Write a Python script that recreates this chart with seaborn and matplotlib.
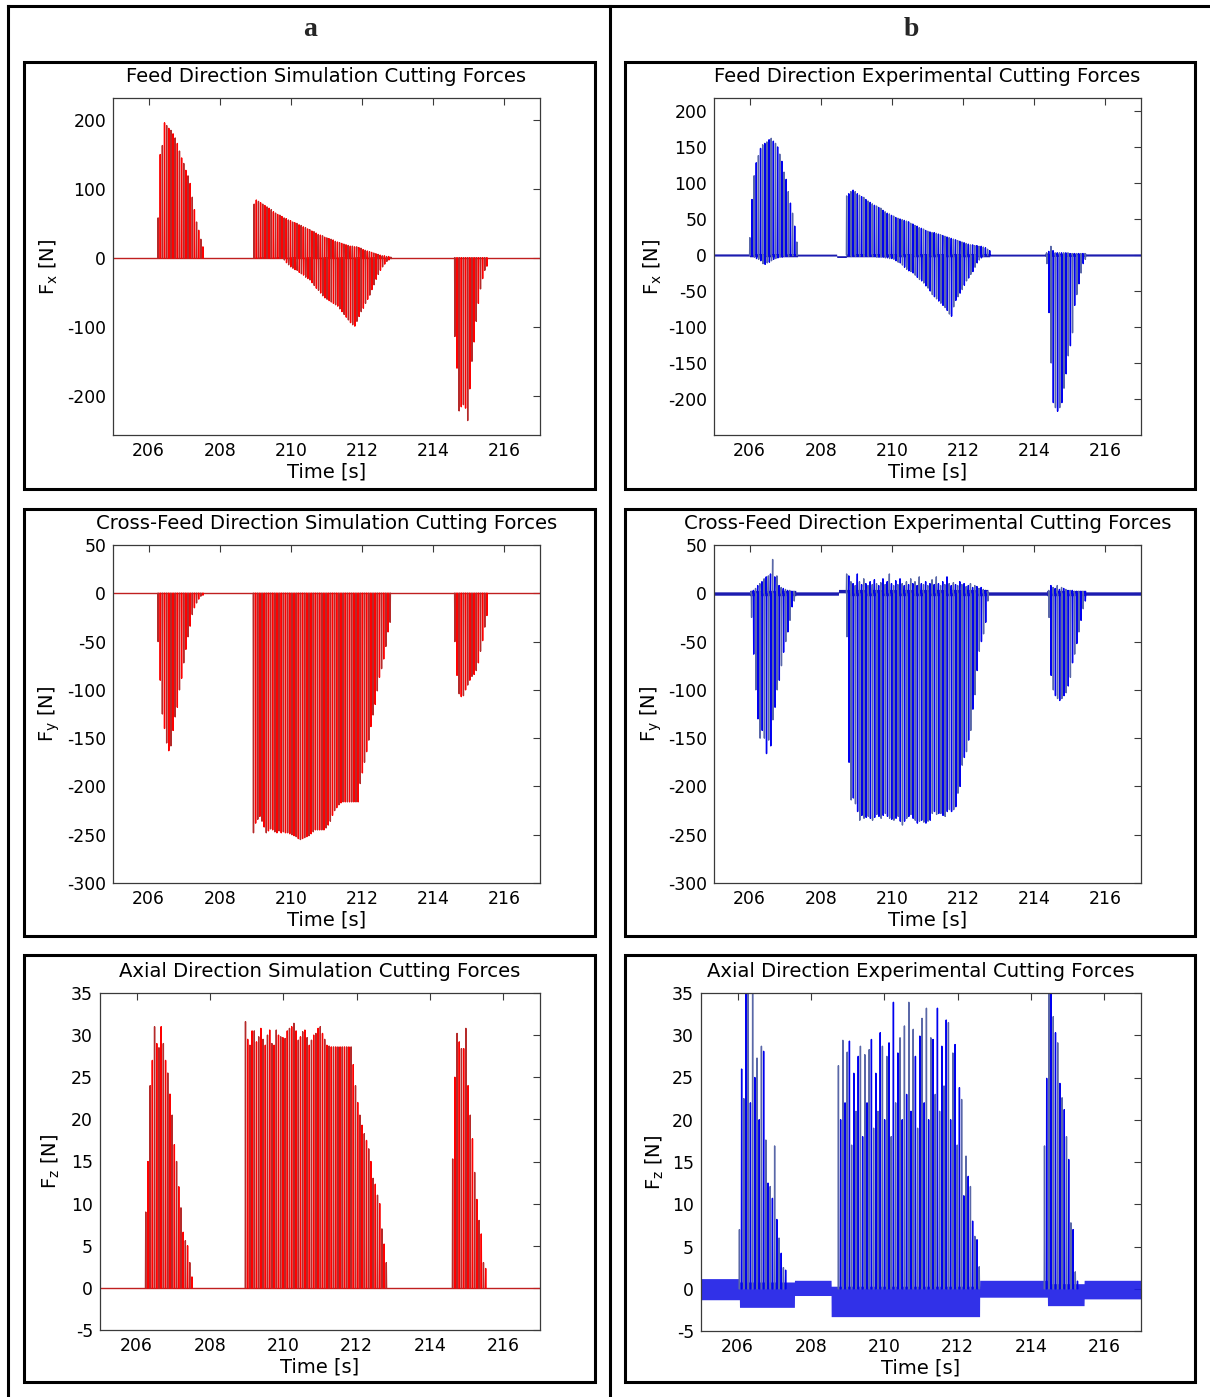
import matplotlib
matplotlib.use("Agg")
import matplotlib.pyplot as plt
from matplotlib.patches import Rectangle
from matplotlib.lines import Line2D
import pandas as pd
import seaborn as sns

# ------------------------------------------------------------------ data
# one spike per tooth pass, spaced by the tooth period [s]
tooth_dt = 0.06
time_ticks = [206, 208, 210, 212, 214, 216]
time_range = (205, 217)

# --- simulation, feed direction Fx [N]
sim_fx_b1_t0 = 206.26
sim_fx_b1_pos = [58, 150, 163, 196, 192, 188, 185, 180, 174, 166, 155, 145, 137,
                 127, 119, 108, 88, 70, 52, 40, 27, 16]
sim_fx_b2_t0 = 208.96
sim_fx_b2_pos = [78, 84, 82, 80, 78, 76, 74, 72, 70, 67, 65, 63, 62, 60, 58, 57,
                 55, 54, 52, 51, 50, 48, 47, 45, 44, 42, 41, 39, 38, 36, 34, 33,
                 32, 30, 29, 28, 27, 26, 24, 23, 22, 21, 20, 19, 18, 17, 17, 16,
                 16, 15, 14, 12, 11, 10, 9, 8, 7, 6, 5, 4, 3, 3, 2, 2, 1]
sim_fx_b2_neg = [0, 0, 0, 0, 0, 0, 0, 0, 0, 0, 0, 0, 0, 0, -3, -7, -10, -13, -15,
                 -17, -18, -21, -23, -25, -28, -30, -32, -36, -40, -44, -47, -51,
                 -55, -58, -60, -62, -64, -66, -68, -70, -74, -78, -82, -86, -90,
                 -94, -97, -99, -92, -85, -78, -73, -66, -60, -54, -46, -39, -31,
                 -24, -18, -13, -9, -5, -3, -1]
sim_fx_b3_t0 = 214.60
sim_fx_b3_neg = [-114, -160, -222, -216, -213, -218, -236, -190, -150, -122, -92,
                 -66, -45, -30, -18, -12]

# --- simulation, cross-feed direction Fy [N]
sim_fy_b1_t0 = 206.26
sim_fy_b1_neg = [-50, -90, -125, -140, -155, -163, -158, -142, -128, -118, -100,
                 -88, -72, -58, -45, -34, -22, -15, -10, -6, -3, -2]
sim_fy_b2_t0 = 208.94
sim_fy_b2_neg = [-248, -238, -234, -231, -236, -242, -248, -246, -244, -245,
                 -247, -248, -246, -248, -247, -248, -248, -249, -250, -251,
                 -252, -254, -255, -254, -253, -252, -251, -249, -247, -245,
                 -245, -245, -245, -245, -243, -240, -236, -230, -225, -222,
                 -219, -217, -216, -216, -216, -216, -216, -216, -216, -216,
                 -197, -186, -175, -164, -152, -138, -126, -115, -101, -87,
                 -78, -68, -55, -40, -30]
sim_fy_b3_t0 = 214.60
sim_fy_b3_neg = [-50, -85, -104, -107, -106, -100, -95, -90, -86, -84, -80, -72,
                 -60, -49, -35, -23]

# --- simulation, axial direction Fz [N]
sim_fz_b1_t0 = 206.24
sim_fz_b1_pos = [9, 15, 24, 27, 31, 29, 28.5, 31, 29, 27, 25.5, 23, 20.5, 17, 15,
                 12, 9.5, 6.6, 5.6, 5, 3, 1.3]
sim_fz_b2_t0 = 208.96
sim_fz_b2_pos = [31.6, 29.5, 28.8, 30.5, 30.5, 29.2, 29.8, 30.8, 29.5, 28.8,
                 30.0, 30.6, 29.0, 28.8, 30.6, 30.0, 29.8, 29.7, 29.6, 30.5,
                 30.8, 31.0, 31.4, 30.5, 29.4, 29.8, 30.4, 30.6, 29.7, 28.8,
                 29.4, 30.0, 30.2, 30.8, 31.0, 30.2, 29.5, 28.8, 28.7, 28.6,
                 28.6, 28.6, 28.6, 28.6, 28.6, 28.6, 28.6, 28.6, 28.6, 26.5,
                 24.0, 22.0, 20.5, 19.3, 18.3, 17.5, 16.5, 15.0, 13.0, 12.3,
                 11.0, 10.0, 7.0, 5.2, 3.0]
sim_fz_b3_t0 = 214.61
sim_fz_b3_pos = [15.3, 25, 30.2, 29.2, 28.4, 28.4, 30.8, 24, 20.5, 17.7, 13.7,
                 10.5, 8, 6.4, 3, 2.3]

# --- experiment, feed direction Fx [N]
exp_fx_b1_t0 = 206.00
exp_fx_b1_pos = [24, 77, 110, 128, 138, 148, 153, 155, 157, 160, 162, 158, 155,
                 150, 140, 130, 115, 105, 88, 72, 58, 40, 18]
exp_fx_b1_neg = [0, -2, -3, -5, -6, -8, -12, -13, -11, -10, -8, -6, -5, -4, -3,
                 -3, -2, -2, -2, -1, -1, -1, 0]
exp_fx_b2_t0 = 208.72
exp_fx_b2_pos = [82, 85, 88, 90, 88, 85, 83, 81, 80, 77, 75, 73, 71, 69, 68, 66,
                 65, 62, 60, 58, 57, 55, 54, 52, 51, 50, 49, 48, 47, 46, 44, 43,
                 41, 40, 38, 37, 36, 34, 33, 32, 31, 31, 30, 29, 28, 27, 26, 25,
                 24, 23, 22, 21, 20, 19, 18, 17, 16, 15, 14, 14, 13, 13, 12, 12,
                 11, 10, 8, 6]
exp_fx_b2_neg = [0, 0, -2, -2, -2, -2, -2, -2, -2, -2, -2, -2, -2, -2, -3, -3,
                 -3, -3, -4, -4, -5, -5, -6, -8, -10, -11, -14, -17, -20, -22,
                 -23, -25, -28, -31, -34, -36, -39, -43, -46, -50, -55, -58, -61,
                 -64, -67, -70, -73, -77, -82, -85, -72, -63, -58, -53, -48, -42,
                 -36, -32, -27, -23, -17, -11, -7, -4, -2, -1, 0, 0]
exp_fx_b3_t0 = 214.34
exp_fx_b3_pos = [3, 5, 12, 6, 3, 3, 3, 3, 3, 3, 3, 2, 2, 2, 2, 2, 2, 2, 2]
exp_fx_b3_neg = [-12, -80, -150, -205, -212, -217, -212, -205, -185, -165, -140,
                 -126, -108, -70, -55, -40, -25, -12, -6]

# --- experiment, cross-feed direction Fy [N]
exp_fy_b1_t0 = 206.04
exp_fy_b1_pos = [2, 3, 5, 8, 10, 12, 15, 17, 18, 20, 35, 17, 18, 8, 6, 5, 4, 3,
                 3, 2, 2]
exp_fy_b1_neg = [-25, -63, -100, -130, -150, -142, -150, -166, -152, -158, -131,
                 -118, -100, -90, -75, -61, -50, -40, -28, -14, -8]
exp_fy_b2_t0 = 208.72
exp_fy_b2_pos = [20, 18, 12, 10, 8, 20, 12, 9, 15, 10, 8, 12, 9, 14, 10, 8, 11,
                 15, 9, 12, 20, 10, 8, 13, 9, 15, 10, 8, 12, 9, 15, 10, 12, 8, 17,
                 10, 9, 12, 8, 10, 14, 9, 17, 10, 8, 12, 9, 17, 10, 8, 11, 9, 8,
                 12, 9, 10, 7, 8, 10, 6, 8, 7, 5, 6, 4, 3, 2]
exp_fy_b2_neg = [-45, -175, -214, -212, -218, -226, -235, -230, -233, -232,
                 -231, -233, -235, -232, -229, -231, -233, -230, -228, -231,
                 -233, -234, -235, -233, -231, -236, -240, -236, -233, -231,
                 -229, -233, -235, -238, -236, -235, -237, -238, -236, -235,
                 -228, -226, -229, -228, -228, -230, -231, -226, -224, -226,
                 -224, -221, -207, -200, -178, -170, -164, -152, -142, -120,
                 -105, -80, -60, -50, -42, -30, -8]
exp_fy_b3_t0 = 214.40
exp_fy_b3_pos = [3, 8, 6, 5, 8, 4, 6, 5, 4, 3, 3, 3, 2, 2, 2, 2, 2, 2]
exp_fy_b3_neg = [-25, -85, -100, -106, -109, -111, -109, -106, -103, -96, -87,
                 -72, -63, -52, -40, -28, -16, -8]

# --- experiment, axial direction Fz [N]
exp_fz_b1_t0 = 206.04
exp_fz_b1_pos = [7, 26, 22.5, 38, 40, 22, 40, 25, 27.3, 20, 28.7, 28.1, 17.6,
                 12.5, 12.1, 10.7, 16.9, 8.2, 6, 4.2, 2.5, 2.2]
exp_fz_b2_t0 = 208.74
exp_fz_b2_pos = [26.4, 20, 29.4, 22, 28, 29.3, 17, 25.5, 21, 27.5, 28.7, 18,
                 27.7, 22, 28.3, 29.5, 19, 25.5, 21, 30.3, 28.7, 20, 27.5, 29.1,
                 18, 33.9, 22, 27.9, 29.7, 20, 31.1, 23, 33.9, 21, 30.7, 27.5, 19,
                 29.9, 32.0, 22, 33.2, 20, 29.7, 29.5, 23, 33.2, 21, 28.7, 24,
                 31.8, 31.5, 20, 27.9, 28.9, 17, 23.8, 22.4, 11, 15.7, 13.3, 12.1,
                 8, 6.2, 5.8, 2.6]
exp_fz_b3_t0 = 214.36
exp_fz_b3_pos = [16.9, 24.9, 38, 38, 32.2, 30.3, 29.1, 24.3, 22.6, 21.2, 18,
                 15.3, 7.8, 7, 2, 0.9]

# sensor noise floor of the measured signals: segment start, end, low, high
exp_fx_floor_start = [205.00, 206.00, 207.35, 208.45, 208.72, 212.75, 214.30, 215.45]
exp_fx_floor_end = [206.00, 207.35, 208.45, 208.72, 212.75, 214.30, 215.45, 217.00]
exp_fx_floor_lo = [-1.5, -2.5, -1.5, -3.5, -2.5, -1.5, -2.0, -1.5]
exp_fx_floor_hi = [1.5, 2.0, 1.2, -1.0, 2.0, 1.2, 2.5, 1.5]

exp_fy_floor_start = [205.00, 206.00, 207.30, 208.50, 208.72, 212.70, 214.35, 215.45]
exp_fy_floor_end = [206.00, 207.30, 208.50, 208.72, 212.70, 214.35, 215.45, 217.00]
exp_fy_floor_lo = [-2.0, -2.5, -2.0, 0.5, -2.5, -2.0, -2.5, -2.0]
exp_fy_floor_hi = [1.5, 3.0, 1.5, 4.0, 4.0, 1.5, 3.0, 1.5]

exp_fz_floor_start = [205.00, 206.05, 207.55, 208.55, 212.60, 214.45, 215.45]
exp_fz_floor_end = [206.05, 207.55, 208.55, 212.60, 214.45, 215.45, 217.00]
exp_fz_floor_lo = [-1.3, -2.2, -0.8, -3.3, -1.0, -2.0, -1.2]
exp_fz_floor_hi = [1.2, 0.8, 1.0, 0.3, 1.0, 0.6, 1.0]

# ------------------------------------------------------------------ style
sns.set_theme(style="white")
plt.rcParams["font.family"] = ["DejaVu Sans"]
plt.rcParams["axes.unicode_minus"] = False
plt.rcParams["mathtext.default"] = "regular"

W, H = 1210, 1397
fig = plt.figure(figsize=(W / 100, H / 100), dpi=100)
fig.patch.set_facecolor("white")


def rect(l, t, r, b):
    """Pixel box (left, top, right, bottom) -> figure fraction rect."""
    return [l / W, 1 - b / H, (r - l) / W, (b - t) / H]


def spike_rows(t0, first, second=None, offset=0):
    rows = []
    for k, p in enumerate(first):
        t = t0 + tooth_dt * k
        seq = [0.0, p] + ([second[k]] if second is not None else []) + [0.0]
        for j, v in enumerate(seq):
            rows.append({"t": t + 0.008 * j, "F": v,
                         "spike": offset + k, "shade": "odd" if k % 2 else "even"})
    return rows


def draw_spikes(ax, rows, palette, lw=1.0):
    df = pd.DataFrame(rows)
    sns.lineplot(data=df, x="t", y="F", units="spike", estimator=None,
                 sort=False, hue="shade", palette=palette, legend=False,
                 linewidth=lw, ax=ax)


def draw_floor(ax, starts, ends, lo, hi, color, alpha=1.0):
    rows = []
    for a, b, l, h in zip(starts, ends, lo, hi):
        for tt in (a, b - 0.003):
            rows.append({"t": tt, "F": l})
            rows.append({"t": tt, "F": h})
    df = pd.DataFrame(rows)
    sns.lineplot(data=df, x="t", y="F", estimator="mean", errorbar=("pi", 100),
                 color=color, linewidth=0, err_kws={"alpha": alpha, "linewidth": 0},
                 ax=ax)


def draw_zero(ax, color):
    sns.lineplot(x=list(time_range), y=[0, 0], color=color, linewidth=1.0, ax=ax)


def style(ax, ylim, yticks, title, ylab, label_x):
    ax.set_xlim(*time_range)
    ax.set_ylim(*ylim)
    ax.set_xticks(time_ticks)
    ax.set_yticks(yticks)
    ax.tick_params(direction="in", top=True, right=True, length=5, width=0.8,
                   color="#3a3a3a", labelcolor="black", labelsize=12.4, pad=5)
    for s in ax.spines.values():
        s.set_visible(True)
        s.set_color("#3a3a3a")
        s.set_linewidth(0.9)
    ax.set_title(title, fontsize=14.1, pad=11.5, color="black")
    ax.set_xlabel("Time [s]", fontsize=14, labelpad=2, color="black")
    ax.set_ylabel(ylab, fontsize=14, color="black")
    ax.yaxis.set_label_coords(label_x, 0.5)
    ax.set_facecolor("white")


sim_pal = {"even": "#b52a2a", "odd": "#ff0000"}
exp_pal = {"even": "#5a68a8", "odd": "#0000f0"}

# --- (a) simulation column
ax = fig.add_axes(rect(113, 98, 540, 435))
draw_zero(ax, "#c02020")
rows = spike_rows(sim_fx_b1_t0, sim_fx_b1_pos)
rows += spike_rows(sim_fx_b2_t0, sim_fx_b2_pos, sim_fx_b2_neg, offset=100)
rows += spike_rows(sim_fx_b3_t0, sim_fx_b3_neg, offset=200)
draw_spikes(ax, rows, sim_pal)
style(ax, (-257, 232), [-200, -100, 0, 100, 200],
      "Feed Direction Simulation Cutting Forces", r"F$_\mathregular{x}$ [N]", -0.124)

ax = fig.add_axes(rect(113, 545, 540, 883))
draw_zero(ax, "#c02020")
rows = spike_rows(sim_fy_b1_t0, sim_fy_b1_neg)
rows += spike_rows(sim_fy_b2_t0, sim_fy_b2_neg, offset=100)
rows += spike_rows(sim_fy_b3_t0, sim_fy_b3_neg, offset=200)
draw_spikes(ax, rows, sim_pal)
style(ax, (-300, 50), [-300, -250, -200, -150, -100, -50, 0, 50],
      "Cross-Feed Direction Simulation Cutting Forces", r"F$_\mathregular{y}$ [N]", -0.119)

ax = fig.add_axes(rect(100, 993, 540, 1330))
draw_zero(ax, "#c02020")
rows = spike_rows(sim_fz_b1_t0, sim_fz_b1_pos)
rows += spike_rows(sim_fz_b2_t0, sim_fz_b2_pos, offset=100)
rows += spike_rows(sim_fz_b3_t0, sim_fz_b3_pos, offset=200)
draw_spikes(ax, rows, sim_pal)
style(ax, (-5, 35), [-5, 0, 5, 10, 15, 20, 25, 30, 35],
      "Axial Direction Simulation Cutting Forces", r"F$_\mathregular{z}$ [N]", -0.086)

# --- (b) experimental column
ax = fig.add_axes(rect(714, 98, 1141, 435))
rows = spike_rows(exp_fx_b1_t0, exp_fx_b1_pos, exp_fx_b1_neg)
rows += spike_rows(exp_fx_b2_t0, exp_fx_b2_pos, exp_fx_b2_neg, offset=100)
rows += spike_rows(exp_fx_b3_t0, exp_fx_b3_pos, exp_fx_b3_neg, offset=200)
draw_spikes(ax, rows, exp_pal)
draw_floor(ax, exp_fx_floor_start, exp_fx_floor_end, exp_fx_floor_lo,
           exp_fx_floor_hi, "#1c1cb0")
style(ax, (-250, 218), [-200, -150, -100, -50, 0, 50, 100, 150, 200],
      "Feed Direction Experimental Cutting Forces", r"F$_\mathregular{x}$ [N]", -0.117)

ax = fig.add_axes(rect(714, 545, 1141, 883))
rows = spike_rows(exp_fy_b1_t0, exp_fy_b1_pos, exp_fy_b1_neg)
rows += spike_rows(exp_fy_b2_t0, exp_fy_b2_pos, exp_fy_b2_neg, offset=100)
rows += spike_rows(exp_fy_b3_t0, exp_fy_b3_pos, exp_fy_b3_neg, offset=200)
draw_spikes(ax, rows, exp_pal)
draw_floor(ax, exp_fy_floor_start, exp_fy_floor_end, exp_fy_floor_lo,
           exp_fy_floor_hi, "#1c1cb0")
style(ax, (-300, 50), [-300, -250, -200, -150, -100, -50, 0, 50],
      "Cross-Feed Direction Experimental Cutting Forces", r"F$_\mathregular{y}$ [N]", -0.117)

ax = fig.add_axes(rect(701, 993, 1141, 1331))
draw_floor(ax, exp_fz_floor_start, exp_fz_floor_end, exp_fz_floor_lo,
           exp_fz_floor_hi, "#1a1ae6", alpha=0.9)
rows = spike_rows(exp_fz_b1_t0, exp_fz_b1_pos)
rows += spike_rows(exp_fz_b2_t0, exp_fz_b2_pos, offset=100)
rows += spike_rows(exp_fz_b3_t0, exp_fz_b3_pos, offset=200)
draw_spikes(ax, rows, exp_pal)
style(ax, (-5, 35), [-5, 0, 5, 10, 15, 20, 25, 30, 35],
      "Axial Direction Experimental Cutting Forces", r"F$_\mathregular{z}$ [N]", -0.080)

# ------------------------------------------------------------------ table frame
for l, t, r, b in [(24, 62, 595, 489), (625, 62, 1195, 489),
                   (24, 509, 595, 936), (625, 509, 1195, 936),
                   (24, 955, 595, 1382), (625, 955, 1195, 1382)]:
    fig.add_artist(Rectangle((l / W, 1 - b / H), (r - l) / W, (b - t) / H,
                             transform=fig.transFigure, fill=False,
                             edgecolor="black", linewidth=2.2))

for (x0, y0), (x1, y1) in [((8, 6), (1210, 6)), ((8, 6), (8, 1397)),
                           ((610, 6), (610, 1397))]:
    fig.add_artist(Line2D([x0 / W, x1 / W], [1 - y0 / H, 1 - y1 / H],
                          transform=fig.transFigure, color="black",
                          linewidth=2.2, solid_capstyle="projecting"))

fig.text(310 / W, 1 - 36 / H, "a", ha="center", va="baseline", fontsize=20,
         fontweight="bold", family="Liberation Serif")
fig.text(911 / W, 1 - 36 / H, "b", ha="center", va="baseline", fontsize=20,
         fontweight="bold", family="Liberation Serif")

fig.savefig("out.png", dpi=100, facecolor="white")
